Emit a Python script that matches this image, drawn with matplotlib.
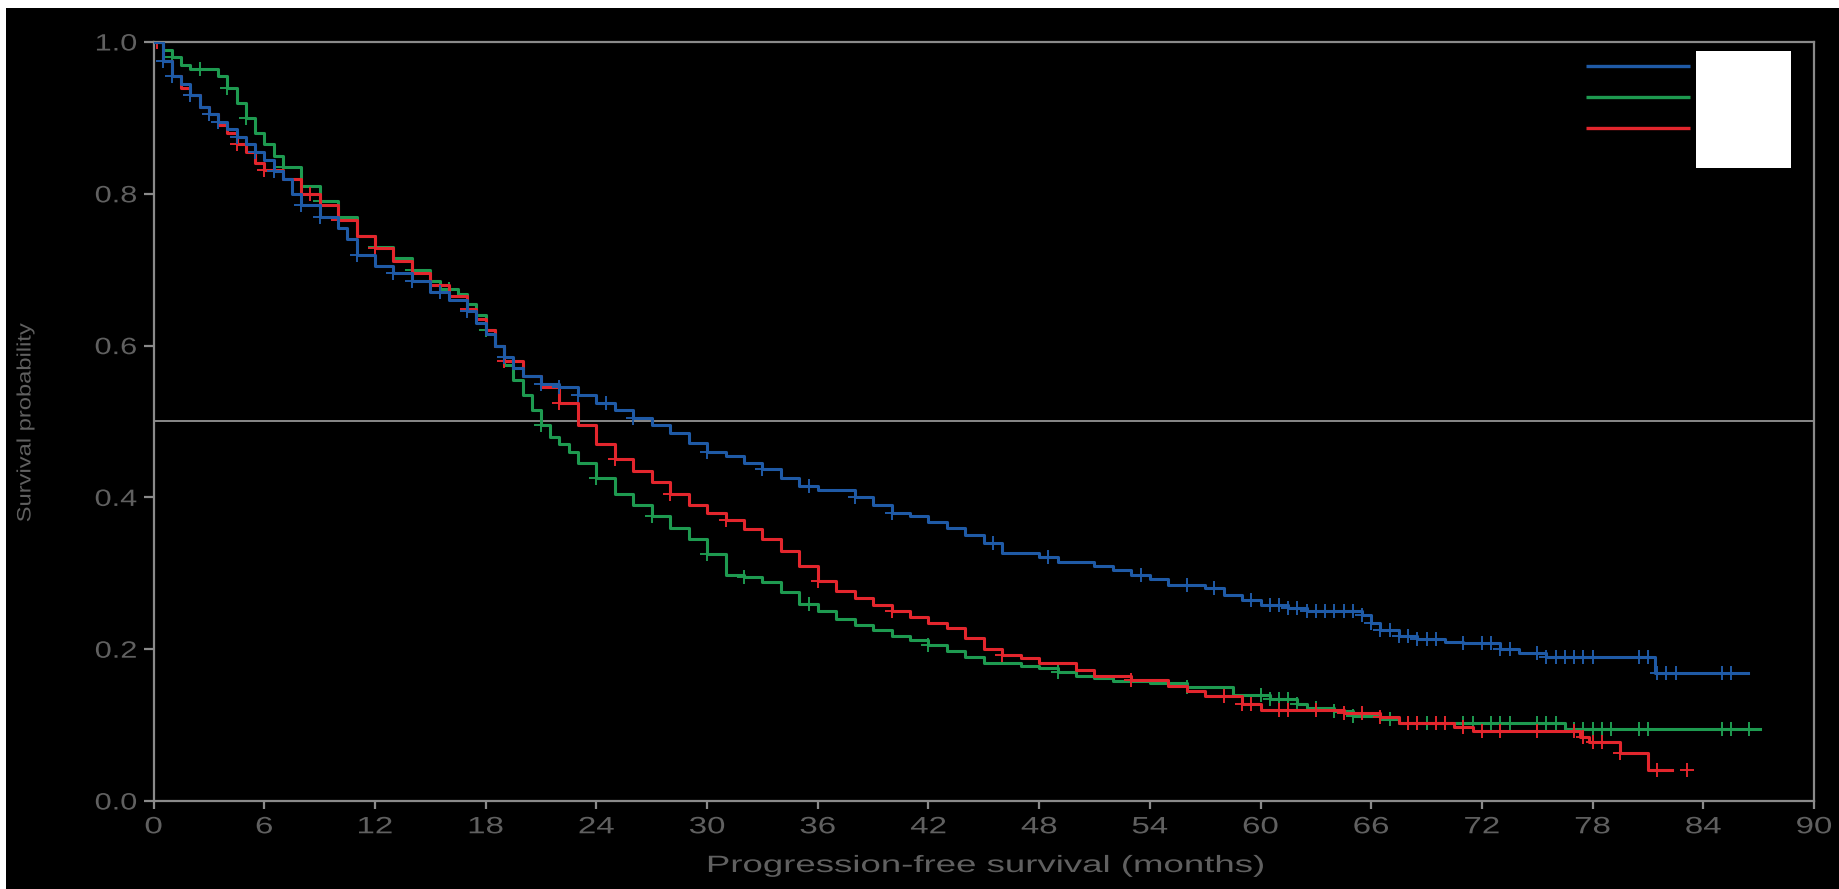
"""Kaplan-Meier style PFS curves, three arms, black background."""
import numpy as np
import matplotlib; matplotlib.use("Agg")
import matplotlib.pyplot as plt
import matplotlib.patheffects as pe
from matplotlib.patches import Rectangle
from matplotlib.transforms import Affine2D

# --- data (months, survival probability) ---
blue_t = [0, 0.5, 1, 1.5, 2, 2.5, 3, 3.5, 4, 4.5, 5, 5.5, 6, 6.5, 7, 7.5, 8, 9, 10, 10.5,
          11, 12, 13, 14, 15, 16, 17, 17.5, 18, 18.5, 19, 19.5, 20, 21, 22, 23, 24, 25, 26,
          27, 28, 29, 30, 31, 32, 33, 34, 35, 36, 38, 39, 40, 41, 42, 43, 44, 45, 46, 48,
          49, 51, 52, 53, 54, 55, 57, 58, 59, 60, 61.5, 62.5, 65.5, 66, 66.5, 67.5, 68.5,
          70, 71, 73, 74, 75.5, 81.4, 86.4]
blue_s = [1.0, 0.975, 0.955, 0.945, 0.93, 0.915, 0.905, 0.895, 0.885, 0.875, 0.865, 0.855,
          0.845, 0.83, 0.82, 0.8, 0.785, 0.77, 0.755, 0.74, 0.72, 0.705, 0.695, 0.685, 0.67,
          0.66, 0.645, 0.63, 0.615, 0.6, 0.585, 0.57, 0.56, 0.55, 0.545, 0.535, 0.525, 0.515,
          0.505, 0.495, 0.485, 0.472, 0.46, 0.455, 0.445, 0.437, 0.425, 0.415, 0.41, 0.40,
          0.39, 0.38, 0.375, 0.368, 0.36, 0.35, 0.34, 0.327, 0.322, 0.315, 0.31, 0.305,
          0.298, 0.292, 0.285, 0.28, 0.272, 0.265, 0.258, 0.254, 0.25, 0.245, 0.235, 0.225,
          0.218, 0.213, 0.21, 0.208, 0.2, 0.195, 0.19, 0.168, 0.168]
blue_cens = [0.5, 1, 2, 3, 3.5, 4.5, 5.5, 6.5, 8, 9, 11, 13, 14, 15.5, 17, 19, 21, 22, 23,
             24.5, 26, 30, 33, 35.5, 38, 40, 45.5, 48.5, 53.5, 56, 57.5, 59.5, 60.5, 61,
             61.5, 62, 62.5, 63, 63.5, 64, 64.5, 65, 65.5, 66, 66.5, 67, 67.5, 68, 68.5, 69,
             69.5, 71, 72, 72.5, 73, 73.5, 75, 75.5, 76, 76.5, 77, 77.5, 78, 80.5, 81, 81.5,
             82, 82.5, 85, 85.5]

green_t = [0, 0.5, 1, 1.5, 2, 3.5, 4, 4.5, 5, 5.5, 6, 6.5, 7, 8, 9, 10, 11, 12, 13, 14, 15,
           15.5, 16.5, 17, 17.5, 18, 18.5, 19, 19.5, 20, 20.5, 21, 21.5, 22, 22.5, 23, 24,
           25, 26, 27, 28, 29, 30, 31, 32, 33, 34, 35, 36, 37, 38, 39, 40, 41, 42, 43, 44,
           45, 47, 48, 49, 50, 51, 52, 54, 56, 58.5, 60.5, 62, 62.5, 64, 65, 66.5, 67.5,
           76.5, 87.1]
green_s = [1.0, 0.99, 0.98, 0.97, 0.965, 0.955, 0.94, 0.92, 0.9, 0.88, 0.865, 0.85, 0.835,
           0.81, 0.79, 0.77, 0.745, 0.73, 0.715, 0.70, 0.685, 0.675, 0.668, 0.655, 0.64,
           0.62, 0.6, 0.575, 0.555, 0.535, 0.515, 0.495, 0.48, 0.47, 0.46, 0.445, 0.425,
           0.405, 0.39, 0.375, 0.36, 0.345, 0.325, 0.298, 0.295, 0.288, 0.275, 0.26, 0.25,
           0.24, 0.232, 0.225, 0.218, 0.212, 0.205, 0.198, 0.19, 0.182, 0.178, 0.175, 0.17,
           0.165, 0.162, 0.158, 0.155, 0.15, 0.14, 0.135, 0.128, 0.123, 0.118, 0.112, 0.108,
           0.103, 0.095, 0.095]
green_cens = [1, 2.5, 4, 5, 7, 9, 12, 14, 16, 18, 21, 24, 27, 30, 32, 35.5, 42, 49, 56, 60,
              60.5, 61, 61.5, 62, 63, 64, 65, 67, 68, 68.5, 69, 70, 71, 71.5, 72.5, 73, 73.5,
              75, 75.5, 76, 77, 77.5, 78, 78.5, 79, 80.5, 81, 85, 85.5, 86.5]

red_t = [0, 0.5, 1, 1.5, 2, 2.5, 3, 3.5, 4, 4.5, 5, 5.5, 6, 7, 8, 9, 10, 11, 12, 13, 14, 15,
         16, 17, 17.5, 18, 18.5, 19, 20, 21, 22, 23, 24, 25, 26, 27, 28, 29, 30, 31, 32, 33,
         34, 35, 36, 37, 38, 39, 40, 41, 42, 43, 44, 45, 46, 47, 48, 50, 51, 53, 55, 56, 57,
         59, 60, 64.5, 66.5, 67.5, 70.5, 71.5, 77.3, 77.8, 79.5, 81, 82.3]
red_s = [1.0, 0.975, 0.955, 0.94, 0.93, 0.915, 0.905, 0.89, 0.88, 0.865, 0.855, 0.84, 0.832,
         0.82, 0.80, 0.785, 0.765, 0.745, 0.728, 0.712, 0.695, 0.68, 0.665, 0.648, 0.635,
         0.62, 0.6, 0.58, 0.56, 0.545, 0.525, 0.495, 0.47, 0.45, 0.435, 0.42, 0.405, 0.39,
         0.38, 0.37, 0.358, 0.345, 0.33, 0.31, 0.29, 0.277, 0.268, 0.258, 0.25, 0.242,
         0.235, 0.228, 0.215, 0.2, 0.192, 0.188, 0.182, 0.172, 0.165, 0.16, 0.152, 0.145,
         0.138, 0.128, 0.12, 0.116, 0.111, 0.103, 0.098, 0.092, 0.084, 0.078, 0.063, 0.041,
         0.041]
red_cens = [0.2, 2, 3, 4.5, 6, 8.5, 10, 12, 14, 17, 19, 22, 25, 28, 31, 36, 40, 46, 53, 58,
            59, 59.5, 61, 61.5, 63, 64.5, 65.5, 66.5, 68, 68.5, 69.5, 70, 71, 72, 73, 75, 77,
            77.5, 78, 78.5, 79.5, 81.5, 83.1]

x_ticks = list(range(0, 91, 6))
y_ticks = [0.0, 0.2, 0.4, 0.6, 0.8, 1.0]
x_label = "Progression-free survival (months)"
y_label = "Survival probability"

BLUE, GREEN, RED = "#1f5aa6", "#1e9a50", "#e3262d"
GRAY, TXT = "#8a8a8a", "#606060"


class Stretch(pe.AbstractPathEffect):
    """widen glyphs horizontally (reference text is stretched)"""
    def __init__(self, sx, anchor="center"):
        super().__init__()
        self.sx, self.anchor = sx, anchor

    def draw_path(self, renderer, gc, tpath, affine, rgbFace=None):
        ext = tpath.get_extents()
        cx = {"left": ext.x0, "center": (ext.x0 + ext.x1) / 2, "right": ext.x1}[self.anchor]
        t = Affine2D().translate(-cx, 0).scale(self.sx, 1).translate(cx, 0) + affine
        renderer.draw_path(gc, tpath, t, rgbFace)


def at(times, surv, c):
    i = np.searchsorted(times, c, side="right") - 1
    return np.asarray(surv)[i]


plt.rcParams["font.family"] = ["Liberation Sans", "DejaVu Sans"]
fig = plt.figure(figsize=(18.39, 8.89), dpi=100, facecolor="white")
fig.patches.append(Rectangle((6 / 1839, 0), 1, (889 - 8) / 889, transform=fig.transFigure,
                             facecolor="black", edgecolor="none", zorder=-10))
ax = fig.add_axes([153.6 / 1839, 88 / 889, 1660.4 / 1839, 759 / 889])
ax.set_facecolor("black")

ax.axhline(0.5, color="#a0a0a0", lw=1.2, zorder=1)
for t, s, cens, col in [(green_t, green_s, green_cens, GREEN),
                        (red_t, red_s, red_cens, RED),
                        (blue_t, blue_s, blue_cens, BLUE)]:
    ax.plot(t, s, drawstyle="steps-post", color=col, lw=2.2, zorder=3)
    ax.plot(cens, at(t, s, cens), "+", color=col, ms=10, mew=1.4, zorder=3)

ax.set_xlim(0, 90); ax.set_ylim(0, 1.0)
ax.set_xticks(x_ticks); ax.set_yticks(y_ticks)
ax.set_yticklabels([f"{v:.1f}" for v in y_ticks])
for sp in ax.spines.values():
    sp.set_color(GRAY); sp.set_linewidth(1.6)
ax.tick_params(axis="x", length=6, width=1.6, color=GRAY, pad=5, labelsize=17, labelcolor=TXT)
ax.tick_params(axis="y", length=7, width=1.6, color=GRAY, pad=5, labelsize=17, labelcolor=TXT)
for lab in ax.get_xticklabels():
    lab.set_path_effects([Stretch(1.4)])
for lab in ax.get_yticklabels():
    lab.set_path_effects([Stretch(1.3, "right")])

fig.text(986 / 1839, 1 - 866 / 889, x_label, ha="center", va="center", fontsize=17,
         color=TXT, path_effects=[Stretch(1.55)])
fig.text(26 / 1839, 1 - 422 / 889, y_label, ha="center", va="center", rotation=90,
         fontsize=14, color=TXT, path_effects=[Stretch(1.22)])

# legend: coloured lines, label area blanked by a white box
for yy, col in [(0.9684, BLUE), (0.9275, GREEN), (0.8867, RED)]:
    ax.plot([0.8627, 0.9253], [yy, yy], transform=ax.transAxes, color=col, lw=2.4,
            solid_capstyle="butt", zorder=5)
ax.add_patch(Rectangle((0.9289, 0.834), 0.0572, 0.154, transform=ax.transAxes,
                       facecolor="white", edgecolor="none", zorder=5))

fig.savefig("out.png", dpi=100, facecolor=fig.get_facecolor())
